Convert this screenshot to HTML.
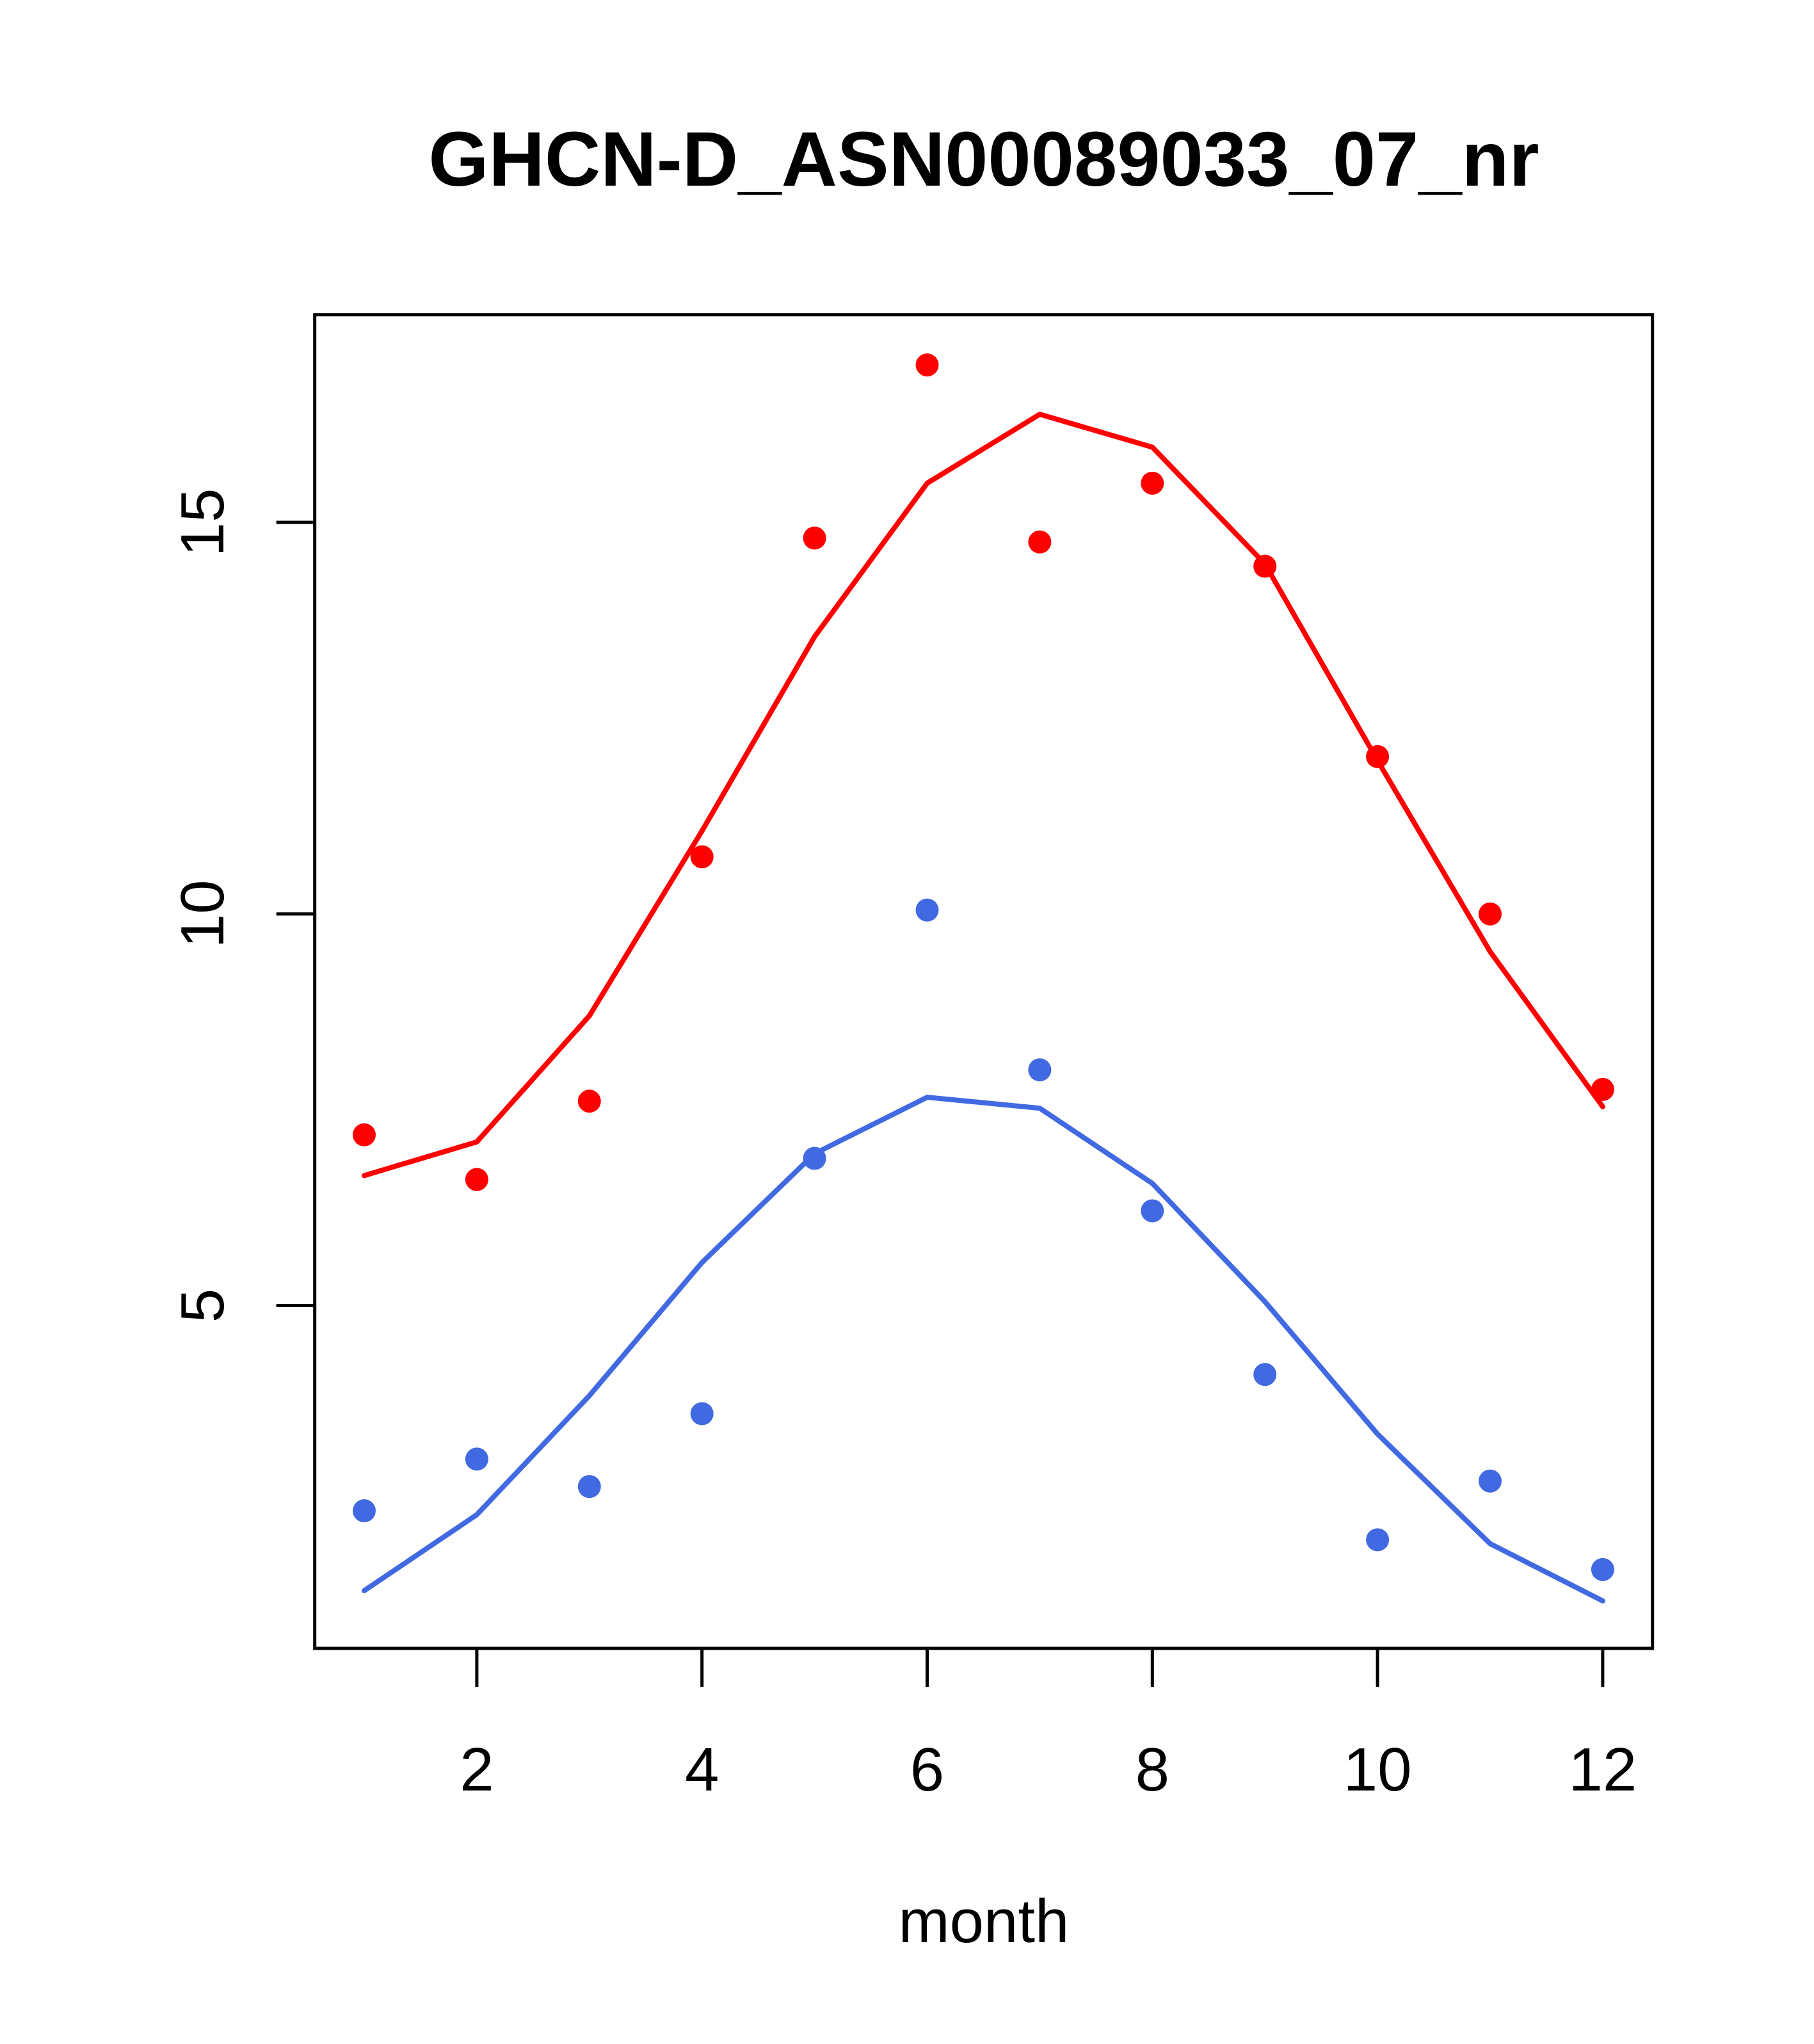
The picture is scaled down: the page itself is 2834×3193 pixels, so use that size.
<!DOCTYPE html>
<html><head><meta charset="utf-8"><style>html,body{margin:0;padding:0;background:#fff}</style></head>
<body>
<svg id="chart" width="2834" height="3188" xmlns="http://www.w3.org/2000/svg" font-family="Liberation Sans, Arial, sans-serif">
<rect width="2834" height="3188" fill="#fff"/>
<text x="1537" y="290" font-size="121" font-weight="bold" text-anchor="middle">GHCN-D_ASN00089033_07_nr</text>
<g id="plot"></g>
<rect x="491.7" y="491.7" width="2090" height="2083.3" fill="none" stroke="#000" stroke-width="5"/>
<text x="1537" y="3034" font-size="96" text-anchor="middle">month</text>
</svg>
<script>
const months=[1,2,3,4,5,6,7,8,9,10,11,12];
const redPoints=[7.18,6.61,7.61,10.73,14.80,17.01,14.75,15.50,14.44,12.01,10.0,7.76];
const redLine=[6.66,7.09,8.70,11.06,13.54,15.50,16.38,15.96,14.47,11.96,9.52,7.54];
const bluePoints=[2.38,3.04,2.69,3.62,6.88,10.05,8.01,6.21,4.12,2.01,2.76,1.63];
const blueLine=[1.36,2.33,3.85,5.55,6.94,7.66,7.52,6.56,5.05,3.36,1.96,1.23];
const xTicks=[2,4,6,8,10,12];
const yTicks=[5,10,15];

const NS="http://www.w3.org/2000/svg";
const g=document.getElementById('plot');
const X=v=>569+(v-1)*175.9;
const Y=v=>2039.5-(v-5)*122.35;
function mk(t,a){const e=document.createElementNS(NS,t);for(const k in a)e.setAttribute(k,a[k]);g.appendChild(e);return e;}
function line(vals,color,name){
  const p=mk('polyline',{points:vals.map((v,i)=>X(months[i])+','+Y(v)).join(' '),fill:'none',stroke:color,'stroke-width':8,'stroke-linejoin':'round','stroke-linecap':'round'});
  
  
}
function pts(vals,color,name){
  vals.forEach((v,i)=>{
    const c=mk('circle',{cx:X(months[i]),cy:Y(v),r:18,fill:color});
    
    
  });
}
line(redLine,'#ff0000','red-fit-line');
line(blueLine,'#4169e1','blue-fit-line');
pts(redPoints,'#ff0000','red-point');
pts(bluePoints,'#4169e1','blue-point');
xTicks.forEach(t=>{
  const l=mk('line',{x1:X(t),x2:X(t),y1:2575,y2:2635,stroke:'#000','stroke-width':5});
  
  
  const tx=mk('text',{x:X(t),y:2797,'font-size':96,'text-anchor':'middle'});
  tx.textContent=t;
  
  
});
yTicks.forEach(t=>{
  const l=mk('line',{x1:431.7,x2:491.7,y1:Y(t),y2:Y(t),stroke:'#000','stroke-width':5});
  
  
  const tx=mk('text',{x:0,y:0,'font-size':96,'text-anchor':'middle',transform:'translate(349,'+Y(t)+') rotate(-90)'});
  tx.textContent=t;
  
  
});
</script>
</body></html>
